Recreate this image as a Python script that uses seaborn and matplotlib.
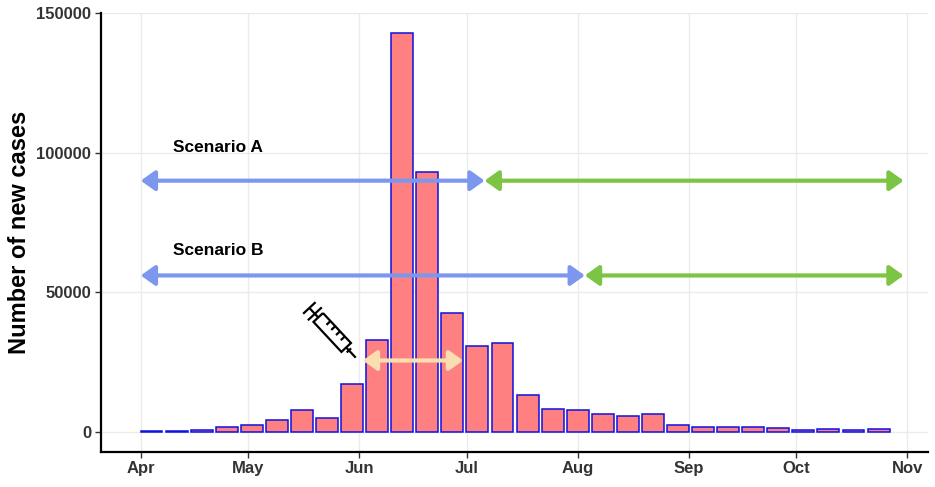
import numpy as np
import pandas as pd
import matplotlib
matplotlib.use("Agg")
import matplotlib.pyplot as plt
import matplotlib.dates as mdates
import seaborn as sns

# ---- data ----
week_start = "2022-04-04"
n_weeks = 30
new_cases = [100, 300, 400, 1800, 2300, 4000, 7800, 4900, 17100, 32900,
             143000, 93000, 42400, 30800, 31800, 13100, 8100, 7800, 6200, 5700,
             6200, 2400, 1800, 1800, 1800, 1400, 500, 900, 500, 900]

scenario_labels = ["Scenario A", "Scenario B"]
scenario_label_y = [102000, 65000]
scenario_level = [90000, 56000]
scenario_start = ["2022-04-01", "2022-04-01"]
scenario_switch = ["2022-07-06", "2022-08-03"]
scenario_end = ["2022-10-31", "2022-10-31"]
label_x = "2022-04-10"

vacc_start = "2022-06-02"
vacc_end = "2022-06-30"
vacc_level = 25500

month_ticks = ["2022-04-01", "2022-05-01", "2022-06-01", "2022-07-01",
               "2022-08-01", "2022-09-01", "2022-10-01", "2022-11-01"]
month_labels = ["Apr", "May", "Jun", "Jul", "Aug", "Sep", "Oct", "Nov"]
y_ticks = [0, 50000, 100000, 150000]

# ---- styling ----
sns.set_theme(style="white")
plt.rcParams["font.family"] = ["Liberation Sans", "DejaVu Sans"]

bar_fill = "#FF8080"
bar_edge = "#1010E0"
blue = "#7D97EE"
green = "#7CC444"
beige = "#F9DFB0"
grid_c = "#EBEBEB"
tick_c = "#333333"

dates = pd.date_range(week_start, periods=n_weeks, freq="7D")
df = pd.DataFrame({"x": mdates.date2num(dates), "cases": new_cases})

fig = plt.figure(figsize=(9.35, 4.87), dpi=100)
ax = fig.add_axes([101 / 935, 1 - 451.5 / 487, (928 - 101) / 935, (451.5 - 13) / 487])

sns.barplot(data=df, x="x", y="cases", native_scale=True, width=0.875,
            color=bar_fill, saturation=1, edgecolor=bar_edge, linewidth=1.1,
            ax=ax, zorder=2)

d = lambda s: mdates.date2num(pd.Timestamp(s))

ax.set_xlim(d("2022-03-21") - 0.1, d("2022-11-06") + 0.8)
ax.set_ylim(-7150, 150150)

ax.set_xticks([d(m) for m in month_ticks])
ax.set_xticklabels(month_labels)
ax.set_yticks(y_ticks)
ax.set_yticklabels([str(v) for v in y_ticks])
ax.grid(True, color=grid_c, linewidth=1.0, zorder=0)
ax.set_axisbelow(True)

for s in ["top", "right"]:
    ax.spines[s].set_visible(False)
for s in ["left", "bottom"]:
    ax.spines[s].set_color("black")
    ax.spines[s].set_linewidth(1.6)

ax.tick_params(axis="both", which="major", length=4, width=1.0, color=tick_c,
               labelsize=12, labelcolor=tick_c, pad=3, bottom=True, left=True)
for lab in ax.get_xticklabels() + ax.get_yticklabels():
    lab.set_fontweight("bold")

ax.set_xlabel("")
ax.set_ylabel("Number of new cases", fontsize=17, fontweight="bold",
              color="black", labelpad=4)


def darrow(x0, x1, y, color, lw=3.0):
    ax.annotate("", xy=(d(x1), y), xytext=(d(x0), y),
                arrowprops=dict(arrowstyle="<|-|>,head_length=0.7,head_width=0.5",
                                color=color, lw=lw, shrinkA=0, shrinkB=0),
                zorder=4)


for lab, ly, lvl, s0, s1, s2 in zip(scenario_labels, scenario_label_y, scenario_level,
                                    scenario_start, scenario_switch, scenario_end):
    darrow(s0, s1, lvl, blue)
    darrow(s1, s2, lvl, green)
    ax.text(d(label_x), ly, lab, fontsize=12.5, fontweight="bold",
            ha="left", va="center", color="black", zorder=5)

darrow(vacc_start, vacc_end, vacc_level, beige, lw=3.0)

# syringe icon (decorative), drawn in a small pixel-unit inset
iax = fig.add_axes([298 / 935, 1 - 366 / 487, 62 / 935, 68 / 487])
iax.set_xlim(0, 62)
iax.set_ylim(68, 0)
iax.axis("off")
ang = np.deg2rad(47)
c, sn = np.cos(ang), np.sin(ang)
ox, oy = 10.0, 8.5


def seg(pts):
    p = np.array(pts, dtype=float)
    u, v = p[:, 0], p[:, 1]
    xx = ox + u * c - v * sn
    yy = oy + u * sn + v * c
    iax.plot(xx, yy, color="black", lw=1.6, solid_capstyle="butt",
             solid_joinstyle="miter")


seg([(2, -8.5), (2, 8.5)])         # handle
seg([(2, 0), (15, 0)])             # plunger rod
seg([(10, -9.5), (10, 9.5)])       # flange
seg([(15, -6.5), (56, -6.5), (56, 6.5), (15, 6.5), (15, -6.5)])  # barrel
for t in [26, 33, 40, 47]:
    seg([(t, -6.5), (t, -1)])      # graduations
seg([(56, 0), (70, 0)])            # needle
seg([(60, -3), (60, 3)])

fig.savefig("out.png", dpi=100)
